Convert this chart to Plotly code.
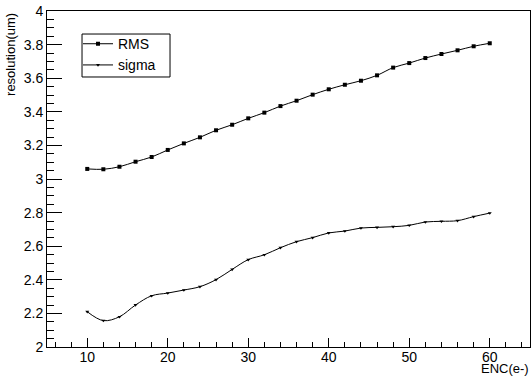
import plotly.graph_objects as go

enc = [10, 12, 14, 16, 18, 20, 22, 24, 26, 28, 30, 32, 34, 36, 38, 40, 42, 44, 46, 48, 50, 52, 54, 56, 58, 60]
rms = [3.060, 3.058, 3.073, 3.103, 3.131, 3.173, 3.212, 3.248, 3.290, 3.323, 3.361, 3.395, 3.434,
       3.466, 3.502, 3.534, 3.561, 3.585, 3.617, 3.663, 3.690, 3.720, 3.744, 3.766, 3.790, 3.808]
sigma = [2.210, 2.157, 2.180, 2.250, 2.305, 2.321, 2.339, 2.359, 2.401, 2.462, 2.520, 2.549, 2.591,
         2.627, 2.651, 2.679, 2.690, 2.708, 2.712, 2.716, 2.724, 2.744, 2.748, 2.752, 2.776, 2.797]

font = "Liberation Sans, Arial, Helvetica, sans-serif"

fig = go.Figure()
fig.add_trace(go.Scatter(x=enc, y=rms, name="RMS", mode="lines+markers",
                         line=dict(color="black", width=1, shape="spline", smoothing=1),
                         marker=dict(symbol="square", size=4, color="black")))
fig.add_trace(go.Scatter(x=enc, y=sigma, name="sigma", mode="lines+markers",
                         line=dict(color="black", width=1, shape="spline", smoothing=1),
                         marker=dict(symbol="triangle-down", size=3.5, color="black")))

fig.update_layout(
    width=531, height=377,
    margin=dict(l=47, r=1, t=11, b=30),
    paper_bgcolor="white", plot_bgcolor="white",
    font=dict(family=font, size=14, color="black"),
    showlegend=True,
    legend=dict(x=0.0642, y=0.949, xanchor="left", yanchor="top",
                borderwidth=0, bgcolor="rgba(0,0,0,0)",
                font=dict(size=14), itemwidth=30, tracegroupgap=0),
    shapes=[dict(type="rect", xref="paper", yref="paper", x0=0.0725, x1=0.2547,
                 y0=0.8036, y1=0.9315, line=dict(color="black", width=1),
                 fillcolor="white", layer="above")],
    xaxis=dict(range=[5, 65], dtick=10, tick0=0, ticks="inside", ticklen=9, tickcolor="black",
               showline=True, linecolor="black", linewidth=1, mirror=True, showgrid=False,
               zeroline=False, tickfont=dict(size=14), ticklabelstandoff=-3,
               minor=dict(dtick=2, ticks="inside", ticklen=5, tickcolor="black", showgrid=False)),
    yaxis=dict(range=[2, 4], dtick=0.2, tick0=2, ticks="inside", ticklen=15, tickcolor="black",
               showline=True, linecolor="black", linewidth=1, mirror=True, showgrid=False,
               zeroline=False, tickfont=dict(size=14),
               minor=dict(dtick=0.05, ticks="inside", ticklen=7, tickcolor="black", showgrid=False)),
    annotations=[
        dict(text="ENC(e-)", xref="paper", yref="paper", x=1.0, y=-0.089, xanchor="right",
             yanchor="bottom", showarrow=False, borderpad=0, font=dict(size=13)),
        dict(text="resolution(um)", xref="paper", yref="paper", x=-0.056, y=1.0,
             xanchor="right", yanchor="top", textangle=-90, showarrow=False, font=dict(size=13)),
    ],
)

fig.write_html("out.html", config={"displayModeBar": False},
               post_script="document.body.style.margin='0';")
